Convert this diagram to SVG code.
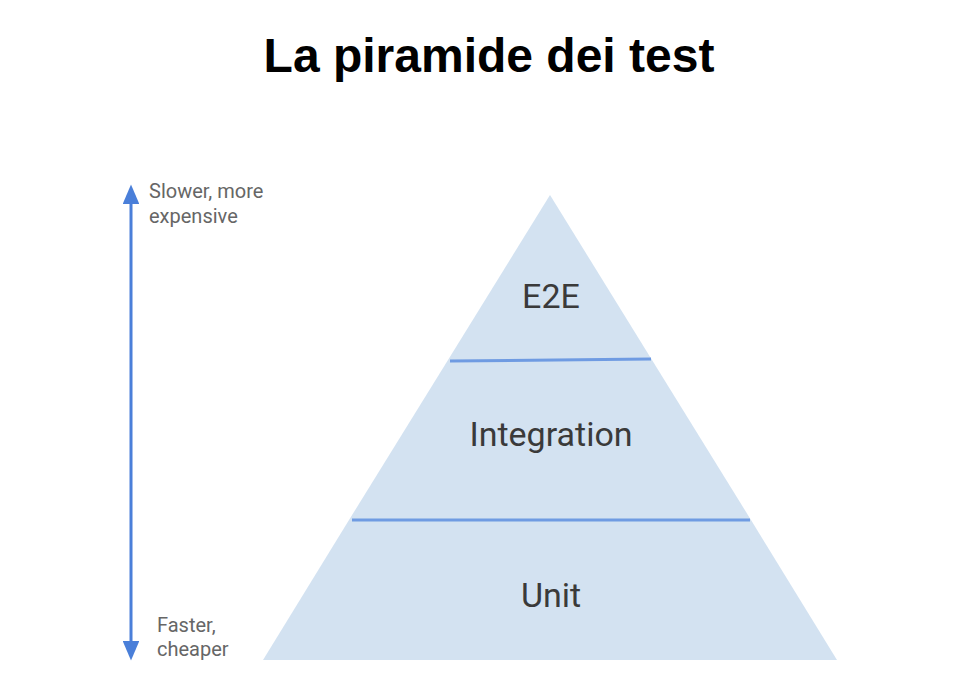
<svg xmlns="http://www.w3.org/2000/svg" width="958" height="682" viewBox="0 0 958 682">
<style>
.layer{fill:#d3e2f1;stroke:none}
.div{stroke:#6f9be2;stroke-width:3;fill:none}
.lbl{font-family:Roboto,"Liberation Sans",sans-serif;font-size:34px;fill:#3a3a3a;text-anchor:middle}
.side{font-family:Roboto,"Liberation Sans",sans-serif;font-size:20px;fill:#666666}
.title{font-family:"Liberation Sans",Arial,sans-serif;font-size:48px;font-weight:bold;fill:#000000;text-anchor:middle}
.arrow{stroke:#4a7fd9;stroke-width:3;fill:none}
</style>
<defs>
<marker id="ah" viewBox="0 0 10 10" refX="1" refY="5" markerWidth="6.5" markerHeight="5.5" markerUnits="strokeWidth" orient="auto-start-reverse" preserveAspectRatio="none">
<path d="M0,0 L10,5 L0,10 z" fill="#4a7fd9"/>
</marker>
</defs>
<rect width="958" height="682" fill="#ffffff"/>
<text class="title" x="489" y="72">La piramide dei test</text>
<g id="e2e">
<polygon class="layer" points="550,195 448,360 652,360"/>
<text class="lbl" x="551" y="308">E2E</text>
</g>
<g id="integration">
<polygon class="layer" points="448,360 652,360 751,520 349,520"/>
<line class="div" x1="450" y1="361" x2="651" y2="359"/>
<text class="lbl" x="551" y="446">Integration</text>
</g>
<g id="unit">
<polygon class="layer" points="349,520 751,520 837,660 263,660"/>
<line class="div" x1="352" y1="520" x2="750" y2="520"/>
<text class="lbl" x="551" y="607">Unit</text>
</g>
<g id="connectors">
<line class="arrow" x1="131" y1="202" x2="131" y2="643" marker-start="url(#ah)" marker-end="url(#ah)"/>
</g>
<g id="labels">
<text class="side" x="149" y="198">Slower, more</text>
<text class="side" x="149" y="223">expensive</text>
<text class="side" x="157" y="632">Faster,</text>
<text class="side" x="157" y="656">cheaper</text>
</g>
</svg>
